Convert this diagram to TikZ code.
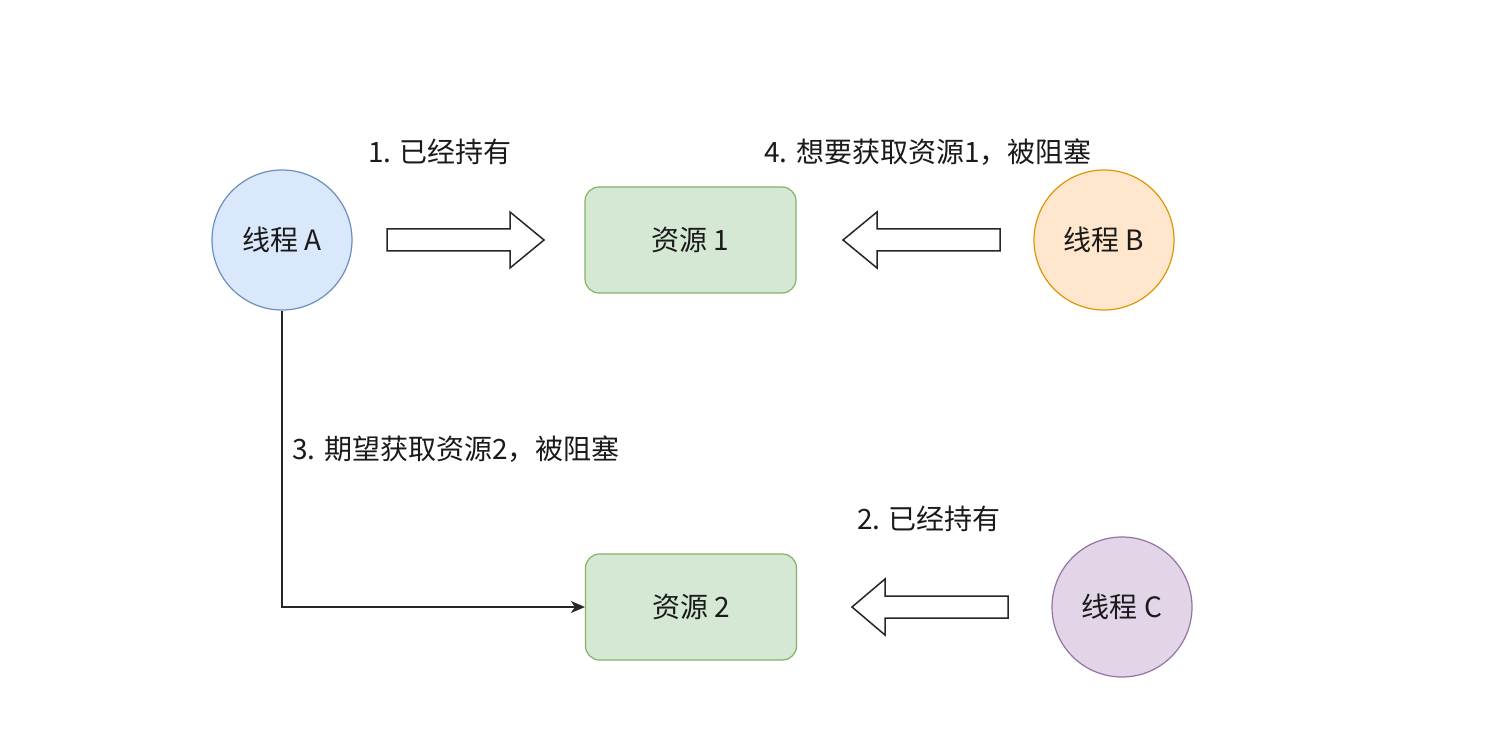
\documentclass[tikz,border=0pt]{standalone}
\usepackage{fontspec}
\setmainfont{Noto Sans CJK SC}
\usetikzlibrary{arrows.meta}
\definecolor{aFill}{HTML}{DAE8FC}\definecolor{aLine}{HTML}{6C8EBF}
\definecolor{bFill}{HTML}{FFE6CC}\definecolor{bLine}{HTML}{D79B00}
\definecolor{cFill}{HTML}{E1D5E7}\definecolor{cLine}{HTML}{9673A6}
\definecolor{rFill}{HTML}{D5E8D4}\definecolor{rLine}{HTML}{82B366}
\definecolor{txt}{HTML}{1A1A1A}
\begin{document}
\begin{tikzpicture}[x=0.5pt,y=-0.5pt,
  thread/.style={circle,draw=#1Line,fill=#1Fill,line width=0.6pt,minimum size=70pt,inner sep=0pt,font=\fontsize{14}{16}\selectfont,text=txt},
  resource/.style={rectangle,rounded corners=7pt,draw=rLine,fill=rFill,line width=0.6pt,minimum width=105.5pt,minimum height=53pt,inner sep=0pt,font=\fontsize{14}{16}\selectfont,text=txt},
  lbl/.style={font=\fontsize{14}{16}\selectfont,text=txt,inner sep=0pt},
  bigarrow/.style={draw=black!85,fill=white,line width=0.75pt,line join=miter},
  conn/.style={draw=black!85,line width=0.75pt,-{Stealth[length=7pt,width=6pt,inset=2pt]}}]
\useasboundingbox (0,0) rectangle (1502,753);
\fill[white] (0,0) rectangle (1502,753);
% nodes
\node[thread=a] (ta) at (282,240) {线程 A};
\node[thread=b] (tb) at (1104,240) {线程 B};
\node[thread=c] (tc) at (1122,607) {线程 C};
\node[resource] (r1) at (690.5,240) {资源 1};
\node[resource] (r2) at (691,607) {资源 2};
% labels
\node[lbl] (l1) at (440,152) {1. 已经持有};
\node[lbl] (l4) at (928,152) {4. 想要获取资源1，被阻塞};
\node[lbl,anchor=west] (l3) at (292,449) {3. 期望获取资源2，被阻塞};
\node[lbl] (l2) at (929,519) {2. 已经持有};
% big arrows
\coordinate (a1) at (387,240);
\draw[bigarrow] (a1) ++(0,-11) -- ++(123,0) -- ++(0,-17) -- ++(34,28) -- ++(-34,28) -- ++(0,-17) -- ++(-123,0) -- cycle;
\coordinate (a2) at (1000,240);
\draw[bigarrow] (a2) ++(0,-11) -- ++(-123,0) -- ++(0,-17) -- ++(-34,28) -- ++(34,28) -- ++(0,-17) -- ++(123,0) -- cycle;
\coordinate (a3) at (1008,607);
\draw[bigarrow] (a3) ++(0,-11) -- ++(-123,0) -- ++(0,-17) -- ++(-33,28) -- ++(33,28) -- ++(0,-17) -- ++(123,0) -- cycle;
% connector
\draw[conn] (ta.south) |- (r2.west);
\end{tikzpicture}
\end{document}
